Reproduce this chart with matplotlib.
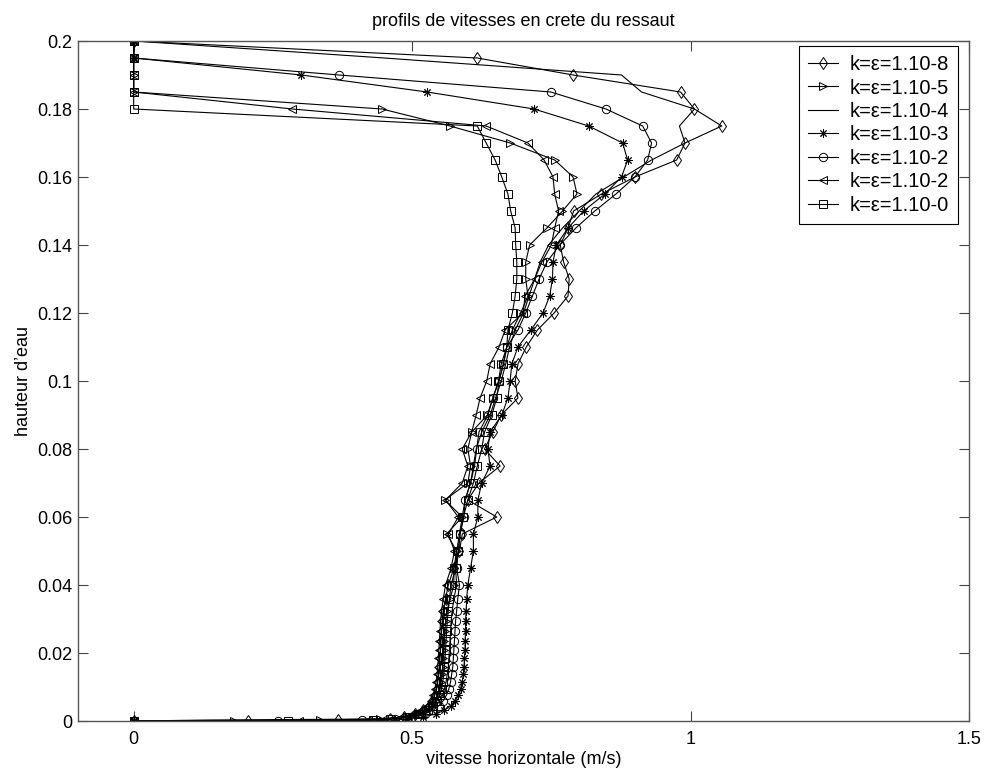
import matplotlib
matplotlib.use('Agg')
import matplotlib.pyplot as plt
from matplotlib.ticker import FuncFormatter

plt.rcParams['font.family'] = ['Liberation Sans', 'DejaVu Sans']

# hauteurs du maillage (m), du haut vers le fond
hauteur = [0.2, 0.195, 0.19, 0.185, 0.18, 0.175, 0.17, 0.165, 0.16, 0.155,
           0.15, 0.145, 0.14, 0.135, 0.13, 0.125, 0.12, 0.115, 0.11, 0.105,
           0.1, 0.095, 0.09, 0.085, 0.08, 0.075, 0.07, 0.065, 0.06, 0.055,
           0.05, 0.045, 0.04, 0.036, 0.0325, 0.0293, 0.0264, 0.0236, 0.021, 0.0185,
           0.016, 0.0137, 0.0115, 0.0095, 0.0077, 0.006, 0.0045, 0.0032, 0.0021, 0.0012,
           0.0006, 0.0003, 0.0001, 0]

# vitesses horizontales (m/s) pour chaque calcul
v_1e8 = [0, 0.617, 0.789, 0.982, 1.007, 1.056, 0.99, 0.975, 0.90, 0.84,
         0.79, 0.78, 0.766, 0.772, 0.782, 0.78, 0.755, 0.725, 0.705, 0.69,
         0.685, 0.69, 0.66, 0.645, 0.63, 0.658, 0.62, 0.60, 0.652, 0.59,
         0.585, 0.575, 0.565, 0.56, 0.556, 0.554, 0.553, 0.552, 0.551, 0.55,
         0.549, 0.548, 0.546, 0.544, 0.541, 0.536, 0.53, 0.52, 0.505, 0.485,
         0.46, 0.367, 0.206, 0]
v_1e5 = [0, 0, 0, 0, 0.446, 0.568, 0.676, 0.756, 0.789, 0.796,
         0.77, 0.742, 0.711, 0.704, 0.704, 0.708, 0.695, 0.68, 0.67, 0.66,
         0.655, 0.645, 0.635, 0.607, 0.60, 0.605, 0.60, 0.559, 0.59, 0.562,
         0.58, 0.575, 0.575, 0.568, 0.563, 0.56, 0.559, 0.558, 0.557, 0.556,
         0.555, 0.554, 0.552, 0.55, 0.547, 0.542, 0.535, 0.525, 0.51, 0.49,
         0.443, 0.335, 0.18, 0]
v_1e4 = [0, 0.45, 0.876, 0.912, 1.007, 0.98, 0.99, 0.93, 0.88, 0.83,
         0.80, 0.77, 0.745, 0.73, 0.72, 0.71, 0.70, 0.685, 0.675, 0.668,
         0.66, 0.65, 0.64, 0.625, 0.615, 0.61, 0.605, 0.595, 0.59, 0.585,
         0.58, 0.578, 0.58, 0.575, 0.572, 0.57, 0.569, 0.568, 0.567, 0.566,
         0.565, 0.563, 0.561, 0.558, 0.555, 0.55, 0.543, 0.533, 0.518, 0.495,
         0.45, 0.138, 0.048, 0]
v_1e3 = [0, 0, 0.301, 0.527, 0.719, 0.817, 0.878, 0.887, 0.876, 0.846,
         0.808, 0.78, 0.759, 0.753, 0.752, 0.747, 0.735, 0.713, 0.69, 0.679,
         0.676, 0.672, 0.661, 0.64, 0.636, 0.64, 0.625, 0.618, 0.618, 0.61,
         0.61, 0.605, 0.60, 0.598, 0.597, 0.596, 0.596, 0.595, 0.595, 0.594,
         0.593, 0.592, 0.59, 0.587, 0.583, 0.577, 0.569, 0.558, 0.543, 0.52,
         0.49, 0.47, 0.44, 0]
v_1e2a = [0, 0, 0.369, 0.749, 0.848, 0.914, 0.930, 0.923, 0.90, 0.866,
          0.828, 0.794, 0.765, 0.742, 0.728, 0.716, 0.704, 0.69, 0.67, 0.664,
          0.656, 0.645, 0.636, 0.62, 0.616, 0.612, 0.605, 0.595, 0.593, 0.586,
          0.583, 0.58, 0.585, 0.582, 0.58, 0.578, 0.577, 0.576, 0.575, 0.574,
          0.573, 0.571, 0.569, 0.566, 0.562, 0.556, 0.548, 0.538, 0.523, 0.5,
          0.47, 0.41, 0.26, 0]
v_1e2b = [0, 0, 0, 0, 0.285, 0.633, 0.708, 0.737, 0.753, 0.756,
          0.763, 0.756, 0.75, 0.733, 0.72, 0.703, 0.699, 0.667, 0.656, 0.64,
          0.634, 0.622, 0.615, 0.607, 0.59, 0.60, 0.59, 0.56, 0.583, 0.565,
          0.576, 0.57, 0.56, 0.556, 0.553, 0.551, 0.55, 0.549, 0.548, 0.547,
          0.546, 0.545, 0.543, 0.541, 0.538, 0.533, 0.526, 0.516, 0.5, 0.48,
          0.45, 0.42, 0.296, 0]
v_1e0 = [0, 0, 0, 0, 0, 0.617, 0.633, 0.649, 0.661, 0.672,
         0.677, 0.685, 0.686, 0.688, 0.688, 0.685, 0.68, 0.672, 0.67, 0.664,
         0.656, 0.652, 0.643, 0.63, 0.625, 0.617, 0.61, 0.60, 0.592, 0.586,
         0.583, 0.578, 0.57, 0.567, 0.565, 0.563, 0.562, 0.561, 0.56, 0.559,
         0.558, 0.557, 0.555, 0.553, 0.55, 0.545, 0.538, 0.528, 0.513, 0.49,
         0.46, 0.43, 0.278, 0]

series = [v_1e8, v_1e5, v_1e4, v_1e3, v_1e2a, v_1e2b, v_1e0]
labels = ['k=ε=1.10-8', 'k=ε=1.10-5', 'k=ε=1.10-4', 'k=ε=1.10-3',
          'k=ε=1.10-2', 'k=ε=1.10-2', 'k=ε=1.10-0']
markers = ['d', '>', None, (8, 2, 0), 'o', '<', 's']

fig = plt.figure(figsize=(9.86, 7.71), dpi=100)
ax = fig.add_axes([78 / 986, 1 - 721 / 771, (969 - 78) / 986, (721 - 41) / 771])

for v, lab, m in zip(series, labels, markers):
    ax.plot(v, hauteur, color='black', lw=0.8, marker=m, ms=6,
            mfc='none', mec='black', mew=0.7, label=lab)

ax.set_xlim(-0.1, 1.5)
ax.set_ylim(0, 0.2)
ax.set_xticks([0, 0.5, 1, 1.5])
ax.set_yticks([0, 0.02, 0.04, 0.06, 0.08, 0.1, 0.12, 0.14, 0.16, 0.18, 0.2])
ax.xaxis.set_major_formatter(FuncFormatter(lambda x, p: '%g' % x))
ax.yaxis.set_major_formatter(FuncFormatter(lambda y, p: '%g' % round(y, 3)))
ax.tick_params(direction='in', length=7, width=0.8, top=True, right=True,
               labelsize=13, color='#444444', pad=4)
ax.tick_params(axis='x', pad=7)
for s in ax.spines.values():
    s.set_color('#555555')
    s.set_linewidth(1)

ax.set_title('profils de vitesses en crete du ressaut', fontsize=13, pad=11)
ax.set_xlabel('vitesse horizontale (m/s)', fontsize=13, labelpad=2)
ax.set_ylabel('hauteur d’eau', fontsize=13, labelpad=4)

leg = ax.legend(loc='upper right', bbox_to_anchor=(0.9877, 0.9926), borderaxespad=0,
                fontsize=14.5, fancybox=False, framealpha=1, edgecolor='black',
                handlelength=1.45, labelspacing=0.22, borderpad=0.45, handletextpad=0.6)
leg.get_frame().set_linewidth(0.8)

fig.savefig('out.png', dpi=100)
